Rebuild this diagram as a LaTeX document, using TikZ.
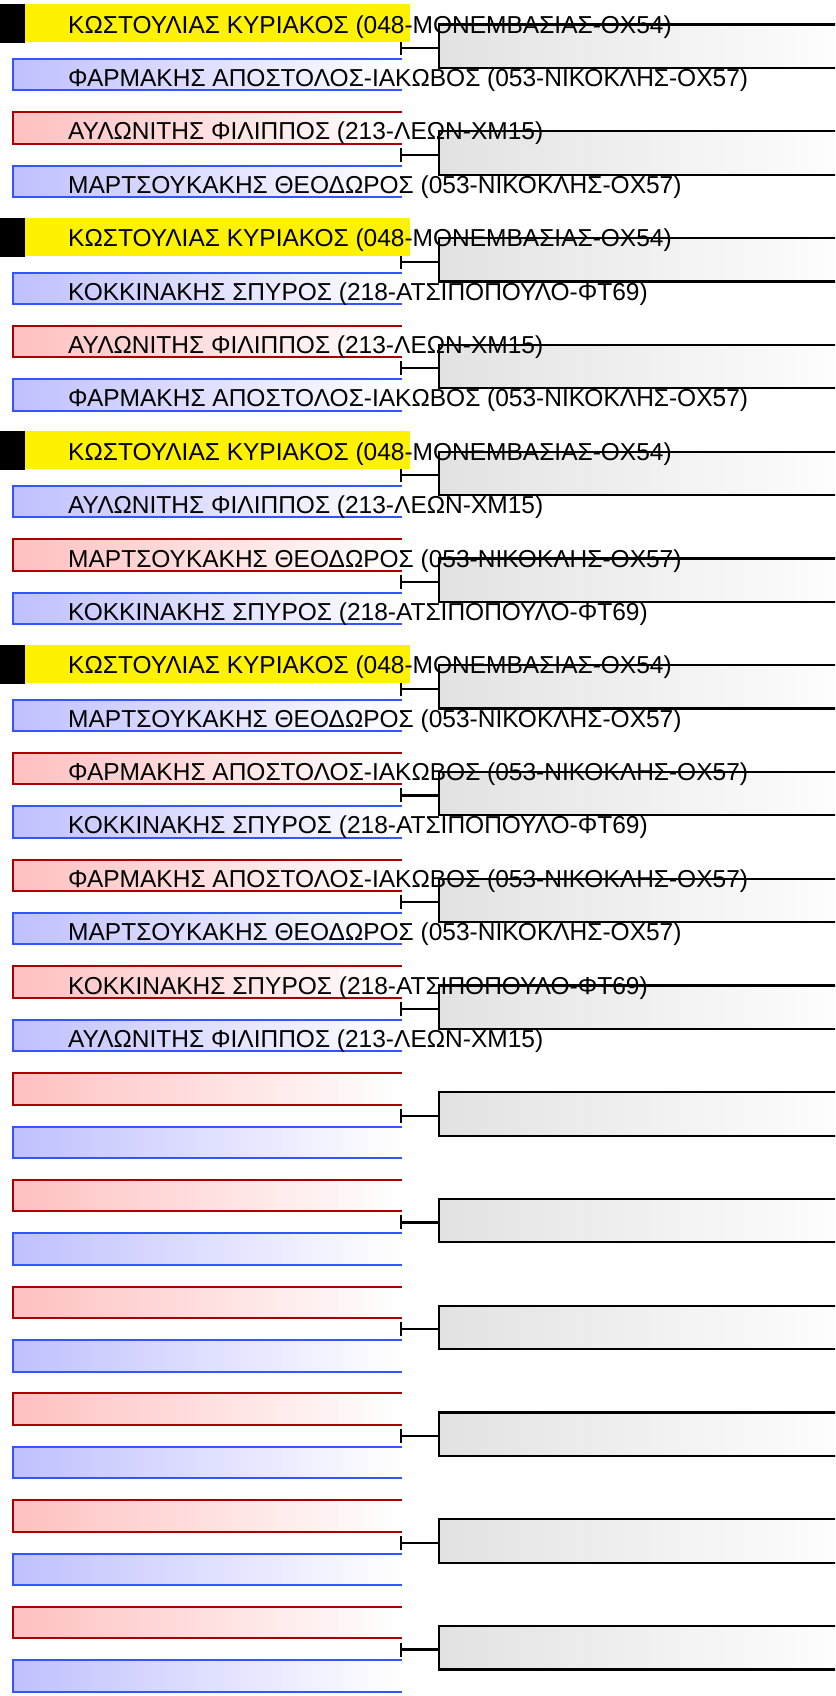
\documentclass[tikz,border=0pt]{standalone}
\usepackage{fontspec}
\setmainfont{Liberation Sans}
\usetikzlibrary{arrows.meta}
\definecolor{redrim}{RGB}{170,0,0}
\definecolor{redfill}{RGB}{255,192,192}
\definecolor{bluerim}{RGB}{51,85,255}
\definecolor{bluefill}{RGB}{192,192,255}
\definecolor{resfill}{RGB}{226,226,226}
\tikzset{
  slot/.style={anchor=north west,inner sep=0pt,minimum width=389pt,minimum height=31pt},
  redbox/.style={slot,left color=redfill,right color=white},
  bluebox/.style={slot,left color=bluefill,right color=white},
  seedbox/.style={slot,fill=yellow,minimum width=385pt,minimum height=38pt,xshift=12pt,yshift=1.6pt},
  seedmark/.style={anchor=north west,inner sep=0pt,fill=black,minimum width=25pt,minimum height=39pt},
  rededge/.style={draw=redrim,line width=2pt},
  blueedge/.style={draw=bluerim,line width=2pt},
  noedge/.style={},
  resbox/.style={anchor=north west,inner sep=0pt,minimum width=420pt,minimum height=43pt,
    left color=resfill,right color=white},
  resedge/.style={draw=black,line width=2.2pt},
  joinline/.style={{Bar[width=14pt,line width=2.2pt]}-,line width=2.2pt},
  entry/.style={anchor=base west,inner sep=0pt,font=\fontsize{24.5}{29}\selectfont}
}
\begin{document}
\begin{tikzpicture}[x=1pt,y=-1pt,line join=miter]
\clip (0,0) rectangle (835,1696);
% result boxes on the right
\foreach \n in {0,...,15}{
  \pgfmathsetmacro\ytop{5.6+106.76*\n}
  \node[resbox] (res\n) at (439,\ytop+19) {};
  \path[resedge] (res\n.north east) -| (res\n.south west) -- (res\n.south east);
  \coordinate (j\n) at (400,\ytop+42.5);
  \draw[joinline] (j\n) -- (j\n -| res\n.west);
}
% seeded player marks
\foreach \n in {0,2,4,6}{
  \pgfmathsetmacro\ytop{5.6+106.76*\n}
  \node[seedmark] (mark\n) at (0,\ytop-1.6) {};
}
% pairs on the left
\foreach \hibox/\hiedge/\hiname/\loname [count=\n from 0] in {
  seedbox/noedge/ΚΩΣΤΟΥΛΙΑΣ ΚΥΡΙΑΚΟΣ (048-ΜΟΝΕΜΒΑΣΙΑΣ-ΟΧ54)/ΦΑΡΜΑΚΗΣ ΑΠΟΣΤΟΛΟΣ-ΙΑΚΩΒΟΣ (053-ΝΙΚΟΚΛΗΣ-ΟΧ57),
  redbox/rededge/ΑΥΛΩΝΙΤΗΣ ΦΙΛΙΠΠΟΣ (213-ΛΕΩΝ-ΧΜ15)/ΜΑΡΤΣΟΥΚΑΚΗΣ ΘΕΟΔΩΡΟΣ (053-ΝΙΚΟΚΛΗΣ-ΟΧ57),
  seedbox/noedge/ΚΩΣΤΟΥΛΙΑΣ ΚΥΡΙΑΚΟΣ (048-ΜΟΝΕΜΒΑΣΙΑΣ-ΟΧ54)/ΚΟΚΚΙΝΑΚΗΣ ΣΠΥΡΟΣ (218-ΑΤΣΙΠΟΠΟΥΛΟ-ΦΤ69),
  redbox/rededge/ΑΥΛΩΝΙΤΗΣ ΦΙΛΙΠΠΟΣ (213-ΛΕΩΝ-ΧΜ15)/ΦΑΡΜΑΚΗΣ ΑΠΟΣΤΟΛΟΣ-ΙΑΚΩΒΟΣ (053-ΝΙΚΟΚΛΗΣ-ΟΧ57),
  seedbox/noedge/ΚΩΣΤΟΥΛΙΑΣ ΚΥΡΙΑΚΟΣ (048-ΜΟΝΕΜΒΑΣΙΑΣ-ΟΧ54)/ΑΥΛΩΝΙΤΗΣ ΦΙΛΙΠΠΟΣ (213-ΛΕΩΝ-ΧΜ15),
  redbox/rededge/ΜΑΡΤΣΟΥΚΑΚΗΣ ΘΕΟΔΩΡΟΣ (053-ΝΙΚΟΚΛΗΣ-ΟΧ57)/ΚΟΚΚΙΝΑΚΗΣ ΣΠΥΡΟΣ (218-ΑΤΣΙΠΟΠΟΥΛΟ-ΦΤ69),
  seedbox/noedge/ΚΩΣΤΟΥΛΙΑΣ ΚΥΡΙΑΚΟΣ (048-ΜΟΝΕΜΒΑΣΙΑΣ-ΟΧ54)/ΜΑΡΤΣΟΥΚΑΚΗΣ ΘΕΟΔΩΡΟΣ (053-ΝΙΚΟΚΛΗΣ-ΟΧ57),
  redbox/rededge/ΦΑΡΜΑΚΗΣ ΑΠΟΣΤΟΛΟΣ-ΙΑΚΩΒΟΣ (053-ΝΙΚΟΚΛΗΣ-ΟΧ57)/ΚΟΚΚΙΝΑΚΗΣ ΣΠΥΡΟΣ (218-ΑΤΣΙΠΟΠΟΥΛΟ-ΦΤ69),
  redbox/rededge/ΦΑΡΜΑΚΗΣ ΑΠΟΣΤΟΛΟΣ-ΙΑΚΩΒΟΣ (053-ΝΙΚΟΚΛΗΣ-ΟΧ57)/ΜΑΡΤΣΟΥΚΑΚΗΣ ΘΕΟΔΩΡΟΣ (053-ΝΙΚΟΚΛΗΣ-ΟΧ57),
  redbox/rededge/ΚΟΚΚΙΝΑΚΗΣ ΣΠΥΡΟΣ (218-ΑΤΣΙΠΟΠΟΥΛΟ-ΦΤ69)/ΑΥΛΩΝΙΤΗΣ ΦΙΛΙΠΠΟΣ (213-ΛΕΩΝ-ΧΜ15),
  redbox/rededge//, redbox/rededge//, redbox/rededge//,
  redbox/rededge//, redbox/rededge//, redbox/rededge//}{
  \pgfmathsetmacro\ytop{5.6+106.76*\n}
  \node[\hibox] (hi\n) at (13,\ytop) {};
  \path[\hiedge] (hi\n.north east) -| (hi\n.south west) -- (hi\n.south east);
  \node[bluebox] (lo\n) at (13,\ytop+53.38) {};
  \path[blueedge] (lo\n.north east) -| (lo\n.south west) -- (lo\n.south east);
  \node[entry] (hiname\n) at (68,\ytop+27.6) {\hiname};
  \node[entry] (loname\n) at (68,\ytop+81) {\loname};
}
\end{tikzpicture}
\end{document}
